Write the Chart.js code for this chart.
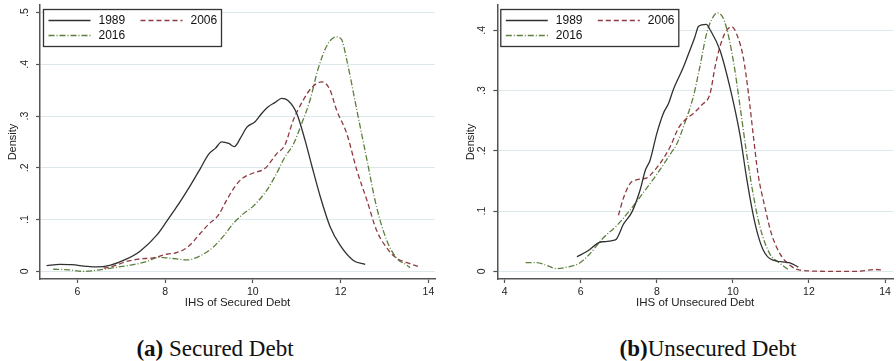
<!DOCTYPE html>
<html>
<head>
<meta charset="utf-8">
<script src="https://cdn.jsdelivr.net/npm/chart.js@4.4.1/dist/chart.umd.min.js"></script>
<style>
  html, body { margin: 0; padding: 0; background: #fff; }
  body { width: 896px; height: 361px; position: relative; overflow: hidden; }
  canvas { position: absolute; top: 0; }
  #securedChart { left: 0; }
  #unsecuredChart { left: 448px; }
  .caption {
    position: absolute; top: 337px;
    font-family: "Liberation Serif", "Times New Roman", serif;
    font-size: 23px; line-height: 23px; color: #111;
    white-space: nowrap; transform: translateX(-50%);
  }
</style>
</head>
<body>
<canvas id="securedChart" width="448" height="320"></canvas>
<canvas id="unsecuredChart" width="448" height="320"></canvas>
<div class="caption" style="left:215px"><b>(a)</b> Secured Debt</div>
<div class="caption" style="left:708px"><b>(b)</b>Unsecured Debt</div>
<script>
const seriesNames = ["1989", "2006", "2016"];
const seriesColors = ["#303030", "#8e3a40", "#5d7f3c"];
const seriesDashes = [[], [5, 3], [6, 2, 1, 2]];

const securedTicksX = [6, 8, 10, 12, 14];
const securedTicksY = [0, 0.1, 0.2, 0.3, 0.4, 0.5];
const securedTickLabelsY = ["0", ".1", ".2", ".3", ".4", ".5"];

const unsecuredTicksX = [4, 6, 8, 10, 12, 14];
const unsecuredTicksY = [0, 0.1, 0.2, 0.3, 0.4];
const unsecuredTickLabelsY = ["0", ".1", ".2", ".3", ".4"];

// (a) secured debt densities
const secured1989X = [5.30, 5.60, 5.87, 6.21, 6.44, 6.74, 7.09, 7.43, 7.81, 8.04, 8.34, 8.57, 8.80, 8.99, 9.15, 9.29, 9.45, 9.58, 9.72, 9.86, 10.05, 10.20, 10.35, 10.50, 10.66, 10.80, 11.00, 11.19, 11.34, 11.53, 11.76, 11.99, 12.29, 12.56];
const secured1989Y = [0.011, 0.0135, 0.013, 0.0097, 0.0085, 0.0116, 0.0225, 0.039, 0.070, 0.097, 0.134, 0.165, 0.198, 0.226, 0.238, 0.250, 0.247, 0.241, 0.258, 0.278, 0.289, 0.305, 0.318, 0.326, 0.334, 0.330, 0.305, 0.253, 0.205, 0.146, 0.086, 0.050, 0.021, 0.0135];

const secured2006X = [6.60, 6.82, 7.12, 7.43, 7.73, 8.04, 8.26, 8.53, 8.80, 8.99, 9.21, 9.40, 9.56, 9.75, 10.01, 10.28, 10.54, 10.73, 10.92, 11.15, 11.34, 11.57, 11.75, 11.91, 12.14, 12.37, 12.60, 12.82, 13.09, 13.28, 13.51, 13.81];
const secured2006Y = [0.006, 0.010, 0.019, 0.024, 0.026, 0.033, 0.036, 0.048, 0.073, 0.091, 0.108, 0.137, 0.160, 0.179, 0.190, 0.199, 0.227, 0.244, 0.292, 0.331, 0.355, 0.366, 0.352, 0.311, 0.266, 0.195, 0.137, 0.079, 0.041, 0.025, 0.017, 0.008];

const secured2016X = [5.45, 5.80, 6.14, 6.52, 6.90, 7.28, 7.58, 7.85, 8.04, 8.26, 8.50, 8.80, 9.10, 9.33, 9.56, 9.78, 10.01, 10.32, 10.54, 10.73, 10.92, 11.11, 11.30, 11.49, 11.70, 11.90, 12.02, 12.14, 12.37, 12.60, 12.82, 13.05, 13.28, 13.51, 13.58];
const secured2016Y = [0.004, 0.003, 0.0, 0.003, 0.008, 0.013, 0.019, 0.027, 0.026, 0.024, 0.022, 0.030, 0.047, 0.068, 0.093, 0.111, 0.126, 0.157, 0.189, 0.221, 0.245, 0.285, 0.330, 0.392, 0.438, 0.453, 0.448, 0.408, 0.311, 0.215, 0.124, 0.060, 0.025, 0.012, 0.007];

// (b) unsecured debt densities
const unsecured1989X = [5.90, 6.19, 6.43, 6.56, 6.91, 7.13, 7.35, 7.56, 7.70, 7.82, 8.00, 8.17, 8.31, 8.43, 8.70, 8.87, 9.00, 9.09, 9.18, 9.30, 9.40, 9.66, 9.92, 10.19, 10.36, 10.53, 10.66, 10.80, 11.00, 11.50, 11.72];
const unsecured1989Y = [0.024, 0.034, 0.046, 0.049, 0.052, 0.079, 0.099, 0.135, 0.168, 0.184, 0.229, 0.262, 0.279, 0.301, 0.339, 0.367, 0.389, 0.406, 0.409, 0.410, 0.401, 0.367, 0.306, 0.225, 0.155, 0.095, 0.060, 0.035, 0.020, 0.014, 0.007];

const unsecured2006X = [6.99, 7.13, 7.30, 7.48, 7.74, 7.92, 8.14, 8.36, 8.57, 8.74, 8.96, 9.18, 9.40, 9.53, 9.66, 9.79, 9.97, 10.14, 10.27, 10.41, 10.53, 10.66, 10.84, 11.01, 11.24, 11.50, 11.76, 12.50, 13.30, 13.75, 13.95];
const unsecured2006Y = [0.093, 0.123, 0.146, 0.152, 0.155, 0.166, 0.184, 0.208, 0.238, 0.251, 0.262, 0.276, 0.295, 0.339, 0.373, 0.395, 0.406, 0.387, 0.356, 0.295, 0.229, 0.162, 0.107, 0.063, 0.029, 0.010, 0.002, 0.0, 0.0, 0.003, 0.002];

const unsecured2016X = [4.55, 4.83, 5.14, 5.37, 5.66, 5.97, 6.21, 6.60, 6.95, 7.30, 7.65, 8.00, 8.36, 8.53, 8.70, 8.96, 9.13, 9.31, 9.45, 9.59, 9.78, 10.01, 10.19, 10.36, 10.53, 10.71, 10.97, 11.24, 11.45];
const unsecured2016Y = [0.0144, 0.0144, 0.0089, 0.0044, 0.0072, 0.0138, 0.027, 0.056, 0.076, 0.102, 0.131, 0.161, 0.195, 0.212, 0.240, 0.290, 0.339, 0.395, 0.419, 0.429, 0.415, 0.350, 0.273, 0.196, 0.129, 0.074, 0.029, 0.013, 0.003];

const sansFont = "'Liberation Sans', Arial, sans-serif";

// stata-like rotated y labels + legend box inside the plot
const stataDecor = {
  id: "stataDecor",
  afterDraw(chart, args, opts) {
    const { ctx, chartArea } = chart;
    const yScale = chart.scales.y;
    ctx.save();
    ctx.fillStyle = "#222";
    ctx.font = "10.5px " + sansFont;
    ctx.textAlign = "center";
    ctx.textBaseline = "middle";
    opts.tickValues.forEach((v, i) => {
      ctx.save();
      ctx.translate(chartArea.left - 15, yScale.getPixelForValue(v));
      ctx.rotate(-Math.PI / 2);
      ctx.fillText(opts.tickLabels[i], 0, 0);
      ctx.restore();
    });

    const bx = chartArea.left + 3.5, by = 9.5, bw = 178, bh = 37;
    ctx.fillStyle = "#fff";
    ctx.fillRect(bx, by, bw, bh);
    ctx.strokeStyle = "#333";
    ctx.lineWidth = 1.3;
    ctx.strokeRect(bx, by, bw, bh);

    const slots = [[5, 11], [97, 11], [5, 26]];
    chart.data.datasets.forEach((ds, i) => {
      const [sx, sy] = slots[i];
      ctx.beginPath();
      ctx.setLineDash(ds.borderDash);
      ctx.strokeStyle = ds.borderColor;
      ctx.lineWidth = ds.borderWidth;
      ctx.moveTo(bx + sx, by + sy);
      ctx.lineTo(bx + sx + 42, by + sy);
      ctx.stroke();
      ctx.setLineDash([]);
      ctx.fillStyle = "#111";
      ctx.font = "12px " + sansFont;
      ctx.textAlign = "left";
      ctx.fillText(ds.label, bx + sx + 50, by + sy + 0.5);
    });
    ctx.restore();
  },
};

function buildDatasets(xsList, ysList) {
  return seriesNames.map((name, i) => ({
    label: name,
    data: xsList[i].map((x, j) => ({ x, y: ysList[i][j] })),
    borderColor: seriesColors[i],
    borderDash: seriesDashes[i],
    borderWidth: 1.3,
    pointRadius: 0,
    tension: 0.4,
    cubicInterpolationMode: "monotone",
    fill: false,
  }));
}

function makeChart(canvasId, cfg) {
  return new Chart(document.getElementById(canvasId), {
    type: "line",
    data: { datasets: buildDatasets(cfg.xs, cfg.ys) },
    options: {
      responsive: false,
      animation: false,
      layout: { padding: { top: 5, right: cfg.padRight, left: 0, bottom: 0 } },
      plugins: {
        legend: { display: false },
        tooltip: { enabled: false },
        stataDecor: { tickValues: cfg.ticksY, tickLabels: cfg.tickLabelsY },
      },
      scales: {
        x: {
          type: "linear",
          min: cfg.xMin,
          max: cfg.xMax,
          afterBuildTicks: (s) => { s.ticks = cfg.ticksX.map((v) => ({ value: v })); },
          afterFit: (s) => { s.height = 41; },
          ticks: { color: "#222", font: { size: 10.5, family: sansFont }, padding: 3, maxRotation: 0 },
          grid: { drawOnChartArea: false, drawTicks: true, tickLength: 4, tickColor: "#555", tickWidth: 1.2 },
          border: { color: "#555", width: 1.5 },
          title: { display: true, text: cfg.xTitle, color: "#222", font: { size: 11.5, family: sansFont }, padding: { top: 0, bottom: 9.8 } },
        },
        y: {
          type: "linear",
          min: cfg.yMin,
          max: cfg.yMax,
          afterBuildTicks: (s) => { s.ticks = cfg.ticksY.map((v) => ({ value: v })); },
          afterFit: (s) => { s.width = cfg.yWidth; },
          ticks: { display: false },
          grid: { color: "#dde8ec", lineWidth: 1, drawTicks: true, tickLength: 4, tickColor: "#555", tickWidth: 1.2 },
          border: { color: "#555", width: 1.5 },
          title: { display: true, text: "Density", color: "#222", font: { size: 11, family: sansFont }, padding: { top: cfg.titlePad, bottom: 0 } },
        },
      },
    },
    plugins: [stataDecor],
  });
}

makeChart("securedChart", {
  xs: [secured1989X, secured2006X, secured2016X],
  ys: [secured1989Y, secured2006Y, secured2016Y],
  ticksX: securedTicksX, ticksY: securedTicksY, tickLabelsY: securedTickLabelsY,
  xMin: 5.15, xMax: 14.15, yMin: -0.0148, yMax: 0.5145,
  xTitle: "IHS of Secured Debt", yWidth: 40, padRight: 13, titlePad: 6.7,
});

makeChart("unsecuredChart", {
  xs: [unsecured1989X, unsecured2006X, unsecured2016X],
  ys: [unsecured1989Y, unsecured2006Y, unsecured2016Y],
  ticksX: unsecuredTicksX, ticksY: unsecuredTicksY, tickLabelsY: unsecuredTickLabelsY,
  xMin: 3.805, xMax: 14.21, yMin: -0.0128, yMax: 0.442,
  xTitle: "IHS of Unsecured Debt", yWidth: 49.3, padRight: 3, titlePad: 16.7,
});
</script>
</body>
</html>
